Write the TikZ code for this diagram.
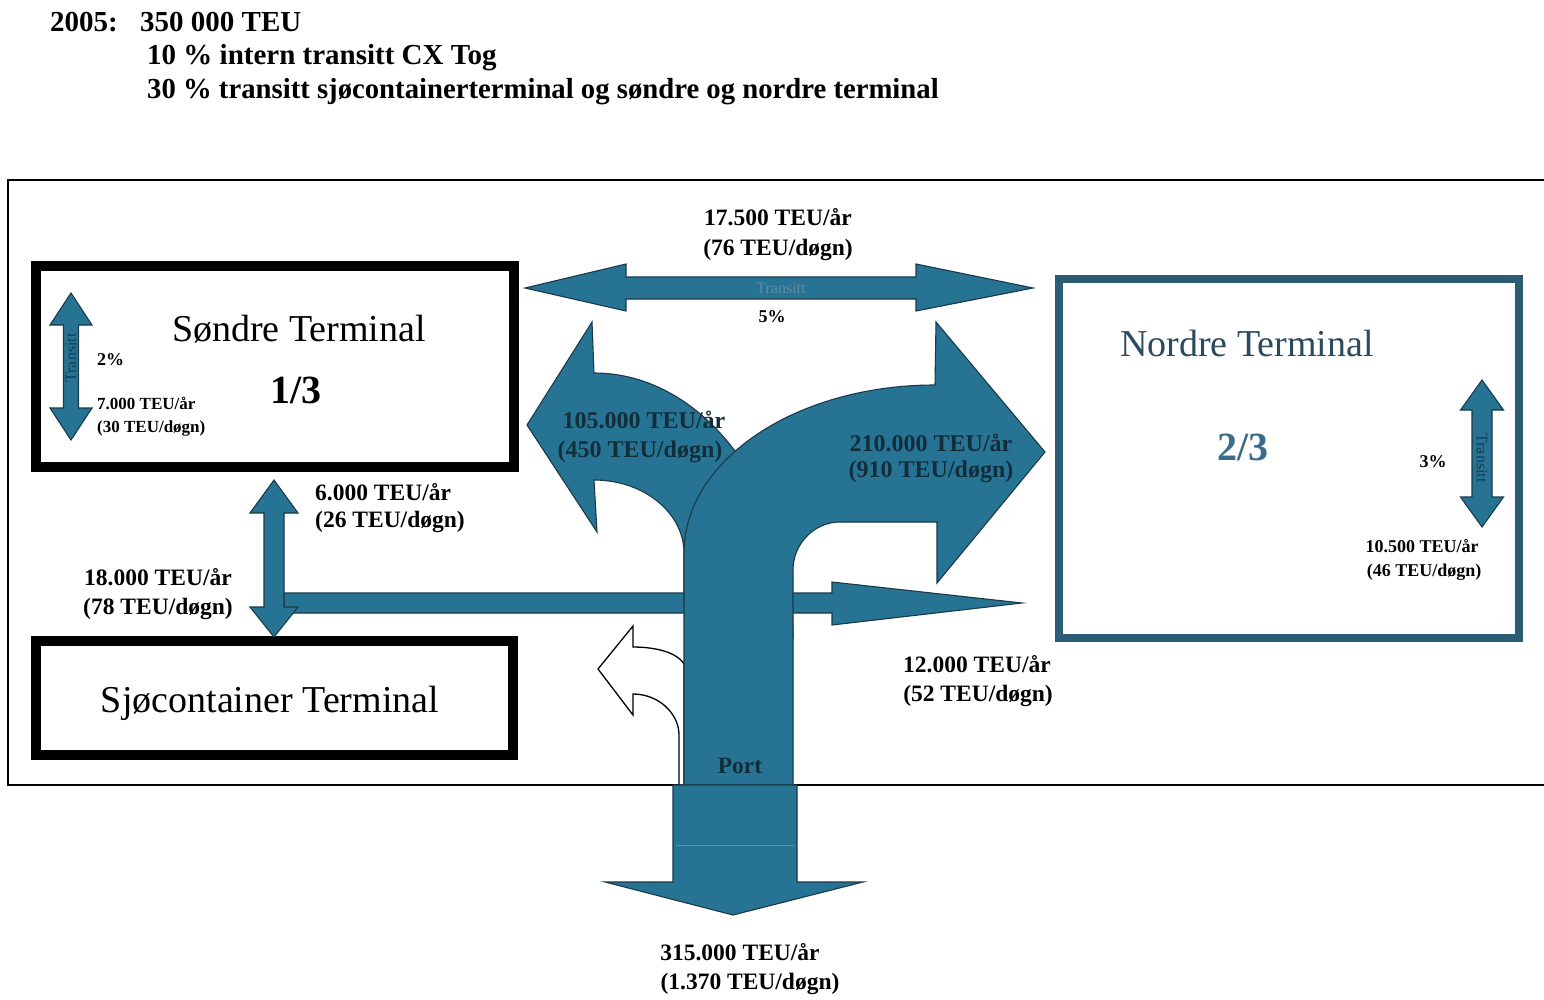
\documentclass[tikz,border=0pt]{standalone}
\usepackage{fontspec}
\setmainfont{Liberation Serif}
\newcommand\fsz[1]{\fontsize{#1}{#1}\selectfont}
\definecolor{flowc}{RGB}{39,115,148}
\definecolor{edgec}{RGB}{26,58,74}
\definecolor{nordc}{RGB}{45,92,118}
\definecolor{nordtxt}{RGB}{42,74,96}
\definecolor{twothird}{RGB}{58,107,138}
\definecolor{darkteal}{RGB}{18,46,58}
\definecolor{transc}{RGB}{22,62,82}
\definecolor{transtop}{RGB}{95,140,160}
\definecolor{greenish}{RGB}{110,150,100}
\tikzset{
  flow/.style={fill=flowc, draw=edgec, line width=1.1pt, line join=miter},
  whiteflow/.style={fill=white, draw=black, line width=1.3pt, line join=miter},
  termbox/.style={draw=black, line width=10pt},
  lbl/.style={inner sep=0pt, font=\bfseries\fsz{23.5}},
  small/.style={inner sep=0pt, font=\bfseries\fsz{18}},
  big/.style={inner sep=0pt, font=\fsz{38}},
  head/.style={inner sep=0pt, anchor=base west, font=\bfseries\fsz{29}},
  trans/.style={inner sep=0pt, text=transc, font=\fsz{16}}
}
\begin{document}
\begin{tikzpicture}[x=1pt,y=-1pt]
\useasboundingbox (0,0) rectangle (1544,999);
\fill[white] (0,0) rectangle (1544,999);

% header
\node[head] (h1) at (50,31) {2005:};
\node[head] (h2) at (140,31) {350 000 TEU};
\node[head] (h3) at (147,64) {10 \% intern transitt CX Tog};
\node[head, xscale=0.99] (h4) at (147,98) {30 \% transitt sjøcontainerterminal og søndre og nordre terminal};

% outer frame
\draw[line width=1.8pt] (1544,180) -- (8,180) -- (8,785) -- (1544,785);

% terminal boxes
\draw[termbox] (36,266) rectangle (514,467);
\draw[termbox] (36,641) rectangle (513,755);
\draw[draw=nordc, line width=8pt] (1059,279) rectangle (1519,638);

\node[big] (sondre) at (299,329) {Søndre Terminal};
\node[inner sep=0pt, font=\bfseries\fsz{40}] (s13) at (296,390) {1/3};
\node[big] (sjo) at (270,703) {Sjøcontainer Terminal};
\node[big, text=nordtxt] (nordre) at (1247,343) {Nordre Terminal};
\node[inner sep=0pt, text=twothird, font=\bfseries\fsz{40}] (n23) at (1243,447) {2/3};

% top transit double arrow
\draw[flow] (525,288) -- (626,264) -- (626,277) -- (916,277) -- (916,264) -- (1033,288)
  -- (916,311) -- (916,299) -- (626,299) -- (626,311) -- cycle;
\node[trans, text=transtop] (t1) at (781,288) {Transitt};
\node[small] (p5) at (772,317) {5\%};
\node[lbl] (l17a) at (778,217) {17.500 TEU/år};
\node[lbl] (l17b) at (778,250) {(76 TEU/døgn)};

% Søndre transit double arrow
\draw[flow] (71,293) -- (92,325) -- (78.5,325) -- (78.5,408) -- (92,408) -- (71,440)
  -- (50,408) -- (63.5,408) -- (63.5,325) -- (50,325) -- cycle;
\node[trans, rotate=90] (t2) at (71,358) {Transitt};
\node[small, anchor=west] (p2) at (97,360) {2\%};
\node[small, anchor=west, font=\bfseries\fsz{17}] (l7a) at (97,403) {7.000 TEU/år};
\node[small, anchor=west, font=\bfseries\fsz{17}] (l7b) at (97,428) {(30 TEU/døgn)};

% Nordre transit double arrow
\draw[flow] (1482,380) -- (1503.5,410) -- (1492,410) -- (1492,497) -- (1503.5,497) -- (1482,527)
  -- (1460.5,497) -- (1472,497) -- (1472,410) -- (1460.5,410) -- cycle;
\node[trans, rotate=-90] (t3) at (1482,458) {Transitt};
\node[small] (p3) at (1433,462) {3\%};
\node[small] (l10a) at (1422,546) {10.500 TEU/år};
\node[small] (l10b) at (1424,572) {(46 TEU/døgn)};

% horizontal 12.000 arrow
\draw[flow] (284,593) -- (832,593) -- (832,582) -- (1022,603) -- (832,625) -- (832,613) -- (284,613) -- cycle;
% vertical 6.000 double arrow
\draw[flow] (274,480) -- (298,513) -- (284,513) -- (284,607) -- (298,607) -- (274,637)
  -- (250,607) -- (264,607) -- (264,513) -- (250,513) -- cycle;
\node[lbl, anchor=west] (l6a) at (315,492) {6.000 TEU/år};
\node[lbl, anchor=west] (l6b) at (315,522) {(26 TEU/døgn)};
\node[lbl] (l18a) at (158,577) {18.000 TEU/år};
\node[lbl] (l18b) at (158,609) {(78 TEU/døgn)};
\node[lbl] (l12a) at (977,664) {12.000 TEU/år};
\node[lbl] (l12b) at (978,696) {(52 TEU/døgn)};

% white curved arrow
\draw[whiteflow] (684,664) .. controls (676,651) and (652,647) .. (633,647) -- (633,626) -- (598,669)
  -- (633,715) -- (633,694) .. controls (658,694) and (679,713) .. (679,735) -- (679,785) -- (684,785) -- cycle;

% left arrow (105.000)
\draw[flow] (684,600) -- (684,553) .. controls (684,513) and (644,480) .. (594,480) -- (597,532) -- (527,425)
  -- (592,322) -- (594,373) .. controls (704,373) and (793,492) .. (793,638) -- cycle;

% stem + right arrow (210.000)
\draw[flow] (684,785) -- (684,553) .. controls (684,460) and (796,385) .. (935,385) -- (936,322) -- (1045,452)
  -- (937,583) -- (937,522) -- (840,522) .. controls (814,522) and (793,544) .. (793,570) -- (793,785) -- cycle;

% down arrow below frame
\draw[flow] (673,785) -- (797,785) -- (797,882) -- (863,882) -- (733,915) -- (605,882) -- (673,882) -- cycle;
\draw[greenish, line width=0.8pt] (676,845) -- (794,845);

\node[lbl, text=darkteal, font=\bfseries\fsz{24}] (l105a) at (644,420) {105.000 TEU/år};
\node[lbl, text=darkteal, font=\bfseries\fsz{24}] (l105b) at (640,452) {(450 TEU/døgn)};
\node[lbl, text=darkteal, font=\bfseries\fsz{24}] (l210a) at (931,443) {210.000 TEU/år};
\node[lbl, text=darkteal, font=\bfseries\fsz{24}] (l210b) at (931,472) {(910 TEU/døgn)};
\node[lbl, text=darkteal] (port) at (740,766) {Port};
\node[lbl] (l315a) at (740,952) {315.000 TEU/år};
\node[lbl] (l315b) at (750,984) {(1.370 TEU/døgn)};
\end{tikzpicture}
\end{document}
